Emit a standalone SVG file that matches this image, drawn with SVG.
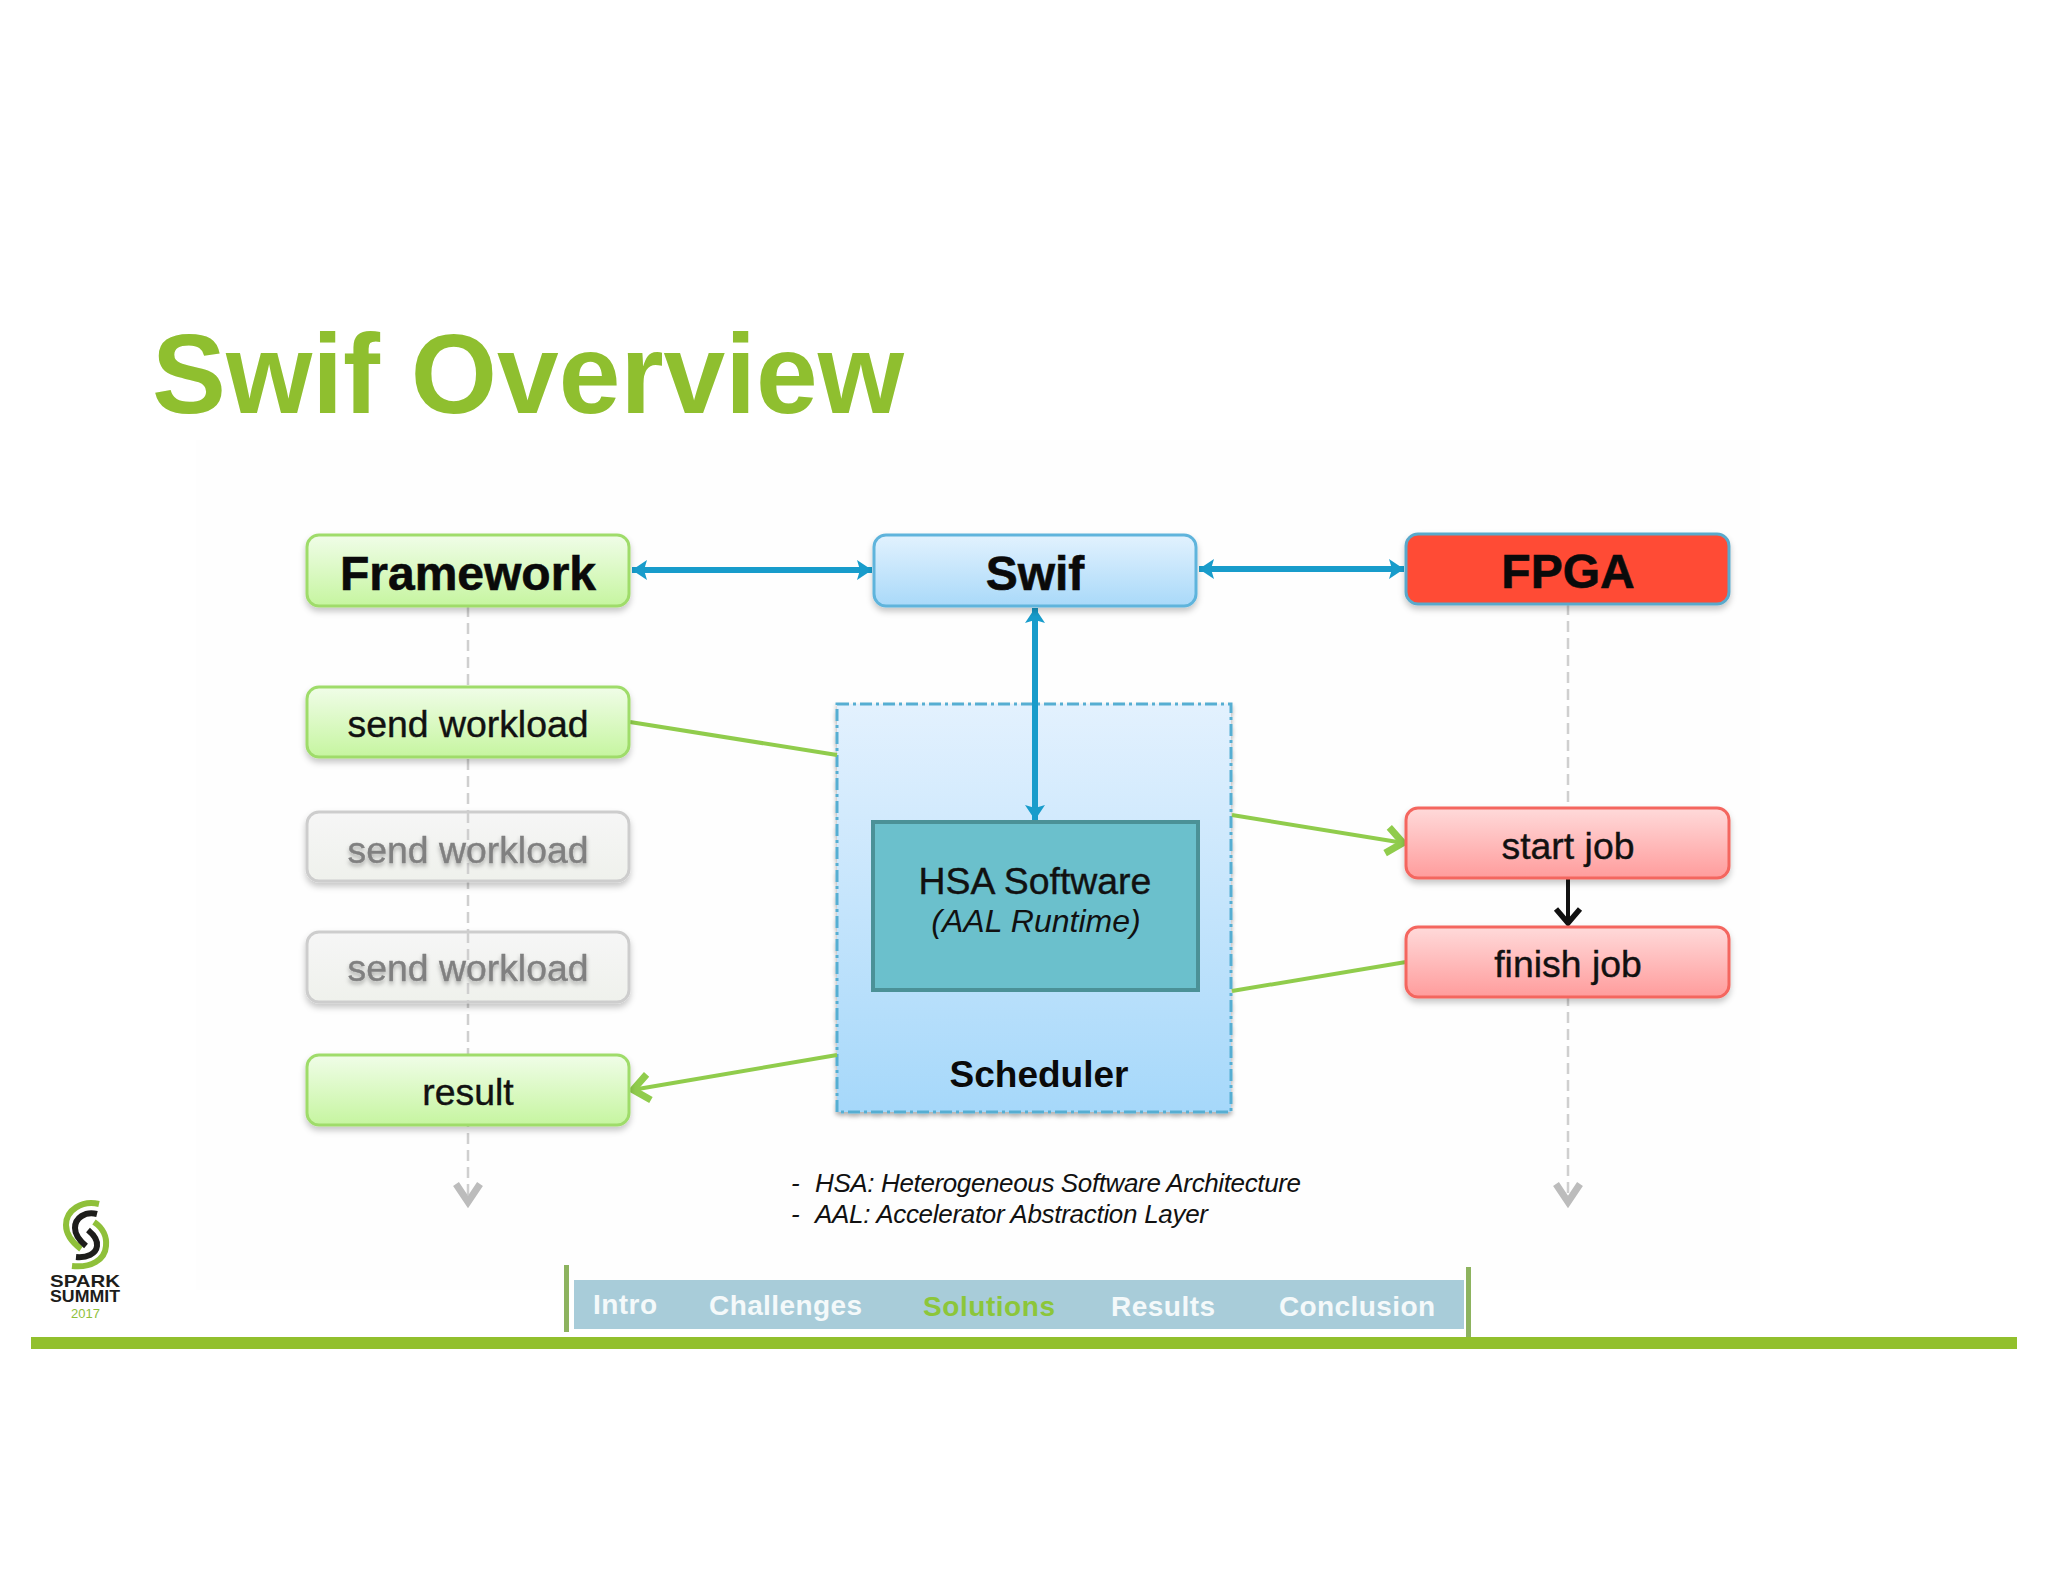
<svg xmlns="http://www.w3.org/2000/svg" width="2048" height="1582" viewBox="0 0 2048 1582">
<style>
text{font-family:"Liberation Sans",Arial,sans-serif}
.c{text-anchor:middle}
.lg{font-size:48px;font-weight:700;fill:#0a0a0a;stroke:#0a0a0a;stroke-width:.6}
.md{font-size:37.4px;fill:#111;stroke:#111;stroke-width:.4}
.gt{font-size:37.4px;fill:#808080;stroke:#808080;stroke-width:.4}
.tab{font-size:28px;font-weight:700;fill:#f4f9fa}
.note{font-size:26px;font-style:italic;fill:#111}
.box{stroke-width:3}
.g{fill:url(#gGreen);stroke:#9fdc6b}
.b{fill:url(#gBlue);stroke:#5fb4dc}
.r{fill:url(#gRed);stroke:#f4665f}
.y{fill:url(#gGray);stroke:#cdcdcd}
.cb{fill:none;stroke:#189ccb;stroke-width:6}
.cg{fill:none;stroke:#90cc4c;stroke-width:4}
.cd{fill:none;stroke:#cfcfcf;stroke-width:2.5;stroke-dasharray:11 6}
</style>
<defs>
<linearGradient id="gGreen" x1="0" y1="0" x2="0" y2="1"><stop offset="0" stop-color="#f0fde8"/><stop offset="1" stop-color="#c6f5a0"/></linearGradient>
<linearGradient id="gBlue" x1="0" y1="0" x2="0" y2="1"><stop offset="0" stop-color="#e2f2fe"/><stop offset="1" stop-color="#a9d9f9"/></linearGradient>
<linearGradient id="gRed" x1="0" y1="0" x2="0" y2="1"><stop offset="0" stop-color="#ffdada"/><stop offset="1" stop-color="#ff9c9c"/></linearGradient>
<linearGradient id="gGray" x1="0" y1="0" x2="0" y2="1"><stop offset="0" stop-color="#f6f6f6"/><stop offset="1" stop-color="#eff1ec"/></linearGradient>
<linearGradient id="gSched" x1="0" y1="0" x2="0" y2="1"><stop offset="0" stop-color="#e3f1fe"/><stop offset="1" stop-color="#a6d8fa"/></linearGradient>
<filter id="sh" x="-5%" y="-20%" width="110%" height="150%"><feDropShadow dx="0" dy="4" stdDeviation="3" flood-color="#000" flood-opacity=".22"/></filter>
<filter id="soft" x="-10%" y="-30%" width="120%" height="160%"><feDropShadow dx="0" dy="3" stdDeviation="2" flood-color="#000" flood-opacity=".3"/></filter>
<marker id="mb" markerUnits="userSpaceOnUse" markerWidth="20" markerHeight="24" refX="16" refY="12" orient="auto-start-reverse"><path d="M1 2L16 12L1 22L4 12Z" fill="#189ccb"/></marker>
<marker id="mg" markerUnits="userSpaceOnUse" markerWidth="26" markerHeight="34" refX="22" refY="17" orient="auto"><path d="M5 4L21 17L5 30" fill="none" stroke="#90cc4c" stroke-width="7"/></marker>
<marker id="mk" markerUnits="userSpaceOnUse" markerWidth="26" markerHeight="32" refX="20" refY="16" orient="auto"><path d="M4 4L18 16L4 28" fill="none" stroke="#111" stroke-width="5.5"/></marker>
<marker id="my" markerUnits="userSpaceOnUse" markerWidth="30" markerHeight="34" refX="22" refY="17" orient="auto"><path d="M2 5L20 17L2 29" fill="none" stroke="#bcbcbc" stroke-width="7"/></marker>
</defs>
<rect width="2048" height="1582" fill="#fff"/>
<rect x="196" y="440" width="1564" height="850" fill="#fefefe"/>
<text id="title" x="152" y="413" font-size="114" font-weight="700" fill="#8fbf2f" textLength="752" lengthAdjust="spacingAndGlyphs">Swif Overview</text>

<g id="connectors">
<path class="cd" d="M468 606V1204" marker-end="url(#my)"/>
<path class="cd" d="M1568 604V1204" marker-end="url(#my)"/>
<path class="cb" d="M632 570H872" marker-start="url(#mb)" marker-end="url(#mb)"/>
<path class="cb" d="M1199 569H1404" marker-start="url(#mb)" marker-end="url(#mb)"/>
</g>

<g id="scheduler">
<rect x="837" y="704" width="394" height="408" fill="url(#gSched)" stroke="#57aed2" stroke-width="3" stroke-dasharray="12 4 3 4" filter="url(#soft)"/>
<text class="c" x="1039" y="1087" font-size="37" font-weight="700" fill="#0a0a0a">Scheduler</text>
</g>
<g id="hsa">
<rect x="873" y="822" width="325" height="168" fill="#6bc0cc" stroke="#4b9197" stroke-width="4"/>
<text class="c md" x="1035" y="894">HSA Software</text>
<text class="c" x="1036" y="932" font-size="32" font-style="italic" fill="#111">(AAL Runtime)</text>
</g>

<g id="connectors-flow">
<path class="cb" d="M1035 608V820" marker-start="url(#mb)" marker-end="url(#mb)"/>
<path class="cg" d="M630 722L837 755"/>
<path class="cg" d="M1232 815L1404 843" marker-end="url(#mg)"/>
<path class="cg" d="M1232 991L1406 962"/>
<path class="cg" d="M837 1055L632 1090" marker-end="url(#mg)"/>
<path fill="none" stroke="#111" stroke-width="4" d="M1568 878V925" marker-end="url(#mk)"/>
</g>

<g id="framework"><rect class="box g" x="307" y="535" width="322" height="71" rx="12" filter="url(#sh)"/><text class="c lg" x="468" y="590">Framework</text></g>
<g id="swif"><rect class="box b" x="874" y="535" width="322" height="71" rx="12" filter="url(#sh)"/><text class="c lg" x="1035" y="590">Swif</text></g>
<g id="fpga"><rect class="box" x="1406" y="534" width="323" height="70" rx="12" fill="#ff4b35" stroke="#5aa9cb" filter="url(#sh)"/><text class="c lg" x="1568" y="588">FPGA</text></g>
<g id="send1"><rect class="box g" x="307" y="687" width="322" height="70" rx="12" filter="url(#sh)"/><text class="c md" x="468" y="737">send workload</text></g>
<g id="send2"><rect class="box y" x="307" y="812" width="322" height="69" rx="12" filter="url(#sh)" /><path class="cd" d="M468 812V881"/><text class="c gt" x="468" y="863" filter="url(#soft)">send workload</text></g>
<g id="send3"><rect class="box y" x="307" y="932" width="322" height="70" rx="12" filter="url(#sh)"/><path class="cd" d="M468 932V1002"/><text class="c gt" x="468" y="981" filter="url(#soft)">send workload</text></g>
<g id="result"><rect class="box g" x="307" y="1055" width="322" height="70" rx="12" filter="url(#sh)"/><text class="c md" x="468" y="1105">result</text></g>
<g id="start"><rect class="box r" x="1406" y="808" width="323" height="70" rx="12" filter="url(#sh)"/><text class="c md" x="1568" y="859">start job</text></g>
<g id="finish"><rect class="box r" x="1406" y="927" width="323" height="70" rx="12" filter="url(#sh)"/><text class="c md" x="1568" y="977">finish job</text></g>

<g id="notes">
<text class="note" x="791" y="1192">-</text><text class="note" x="815" y="1192" textLength="486" lengthAdjust="spacing">HSA: Heterogeneous Software Architecture</text>
<text class="note" x="791" y="1223">-</text><text class="note" x="815" y="1223" textLength="393" lengthAdjust="spacing">AAL: Accelerator Abstraction Layer</text>
</g>

<g id="bar">
<rect x="31" y="1337" width="1986" height="12" fill="#92c02d"/>
<rect x="574" y="1280" width="890" height="49" fill="#a8ccd9"/>
<rect x="564" y="1265" width="5" height="67" fill="#8db35f"/>
<rect x="1466" y="1267" width="5" height="70" fill="#8db35f"/>
<text class="tab" x="593" y="1314" textLength="64">Intro</text>
<text class="tab" x="709" y="1315" textLength="153">Challenges</text>
<text class="tab" x="923" y="1316" textLength="132" style="fill:#8cc63a">Solutions</text>
<text class="tab" x="1111" y="1316" textLength="104">Results</text>
<text class="tab" x="1279" y="1316" textLength="156">Conclusion</text>
</g>

<g id="logo" fill="none">
<path d="M99 1204C82 1200 66 1210 66 1225C66 1236 73 1243 81 1249" stroke="#8fc03a" stroke-width="6"/>
<path d="M94 1222C103 1228 107 1237 106 1246C105 1260 91 1268 72 1266" stroke="#8fc03a" stroke-width="6"/>
<path d="M97 1214C85 1211 75 1218 75 1228C75 1235 80 1241 86 1246" stroke="#1d1d1b" stroke-width="6"/>
<path d="M88 1230C94 1235 98 1240 97 1246C96 1254 87 1258 76 1257" stroke="#1d1d1b" stroke-width="6"/>
<text x="50" y="1287" font-size="17" font-weight="700" fill="#1d1d1b" textLength="70" lengthAdjust="spacingAndGlyphs">SPARK</text>
<text x="50" y="1302" font-size="17" font-weight="700" fill="#1d1d1b" textLength="70" lengthAdjust="spacingAndGlyphs">SUMMIT</text>
<text x="71" y="1318" font-size="13" fill="#8fc03a" textLength="29">2017</text>
</g>
</svg>
